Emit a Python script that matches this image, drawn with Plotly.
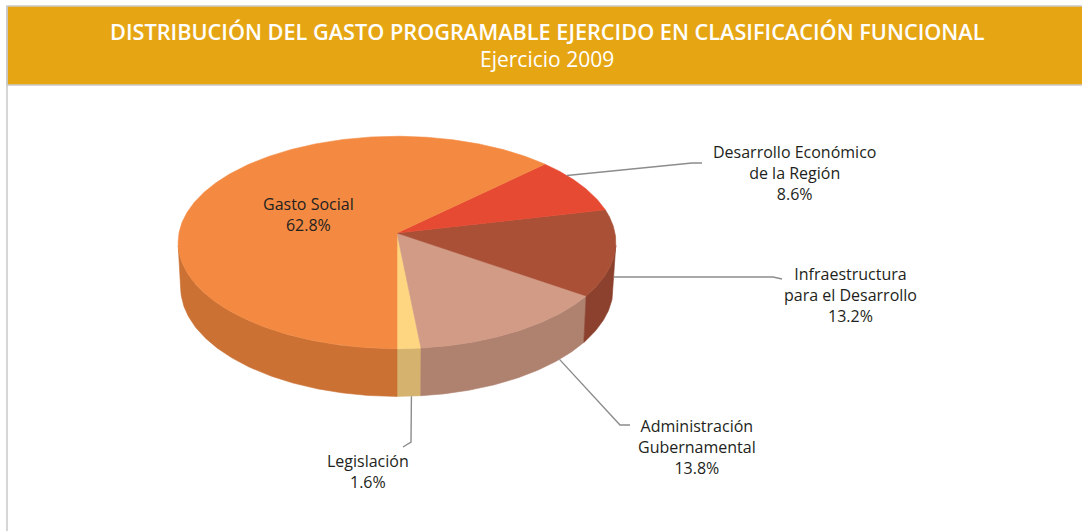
import math
import plotly.graph_objects as go

# ---- data ----
categories = [
    "Legislación",
    "Administración<br>Gubernamental",
    "Infraestructura<br>para el Desarrollo",
    "Desarrollo Económico<br>de la Región",
    "Gasto Social",
]
shares = [1.6, 13.8, 13.2, 8.6, 62.8]
top_colors = ["#FED681", "#D29B86", "#A95036", "#E64A33", "#F48A42"]
side_colors = ["#D5B36E", "#AF826F", "#8B412D", "#B83B29", "#CB7134"]

title_text = "DISTRIBUCIÓN DEL GASTO PROGRAMABLE EJERCIDO EN CLASIFICACIÓN FUNCIONAL"
subtitle_text = "Ejercicio 2009"

# ---- 3D pie projection (perspective view of a tilted disc) ----
W, H_PX = 1082, 531
ELEV = math.radians(28.9)
DIST = 9.81
FOC = 218 * DIST
CX, CY = 397, 233
THICK = 0.2378
START = -90.0  # first slice starts at the front of the disc


def proj(theta_deg, r=1.0, z=0.0):
    t = math.radians(theta_deg)
    X, Y = r * math.cos(t), r * math.sin(t)
    s, c = math.sin(ELEV), math.cos(ELEV)
    yp = Y * s + z * c
    zp = DIST + Y * c - z * s
    return CX + FOC * X / zp, CY - FOC * yp / zp


def arc(a0, a1, z=0.0, step=0.5):
    n = max(2, int(abs(a1 - a0) / step) + 1)
    pts = [proj(a0 + (a1 - a0) * i / (n - 1), 1.0, z) for i in range(n)]
    return [p[0] for p in pts], [p[1] for p in pts]


# visible part of the cylinder wall
lim = math.degrees(math.asin(1.0 / (DIST * math.cos(ELEV))))
visible = [(-180 + lim, -lim), (180 + lim, 360 - lim)]

bounds = []
acc = START
for v in shares:
    a0 = acc
    acc += v * 3.6
    bounds.append((a0, acc))

fig = go.Figure()

# side walls
for (a0, a1), col in zip(bounds, side_colors):
    for v0, v1 in visible:
        lo, hi = max(a0, v0), min(a1, v1)
        if hi <= lo:
            continue
        tx, ty = arc(lo, hi, 0.0)
        bx, by = arc(lo, hi, -THICK)
        fig.add_trace(go.Scatter(
            x=tx + bx[::-1] + [tx[0]], y=ty + by[::-1] + [ty[0]],
            mode="lines", fill="toself", fillcolor=col,
            line=dict(color=col, width=0.6), hoverinfo="skip", showlegend=False))

# top faces
for (a0, a1), col, name, v in zip(bounds, top_colors, categories, shares):
    ax, ay = arc(a0, a1, 0.0)
    fig.add_trace(go.Scatter(
        x=[CX] + ax + [CX], y=[CY] + ay + [CY],
        mode="lines", fill="toself", fillcolor=col,
        line=dict(color=col, width=0.6), name=name.replace("<br>", " "),
        text=f"{v}%", hoverinfo="name+text", showlegend=False))

# ---- leader lines and labels ----
text_color = "#231F20"
label_font = dict(family="Open Sans", size=16, color=text_color)
lead_color = "#8C8C8C"

# (anchor angle inside slice, depth fraction, path to label, label centre)
leaders = {
    3: (35.0, 0.0, [(692, 163), (702, 163)], (794, 173)),
    2: (-5.0, 0.77, [(773, 277), (782, 279)], (850, 295)),
    1: (-45.0, 1.0, [(620, 425), (630, 425)], (697, 447)),
    0: (-86.5, 1.0, [(411, 442), (403, 447)], (368, 471)),
}

for idx, (ang, frac, path, (lx, ly)) in leaders.items():
    sx, sy = proj(ang, 1.0, -THICK * frac)
    xs = [sx] + [p[0] for p in path]
    ys = [sy] + [p[1] for p in path]
    fig.add_trace(go.Scatter(x=xs, y=ys, mode="lines",
                             line=dict(color=lead_color, width=1.4),
                             hoverinfo="skip", showlegend=False))
    fig.add_annotation(x=lx, y=ly, xref="x", yref="y", showarrow=False,
                       text=f"{categories[idx]}<br>{shares[idx]}%",
                       font=label_font, align="center")

# label on the largest slice
fig.add_annotation(x=308, y=214, xref="x", yref="y", showarrow=False,
                   text=f"{categories[4]}<br>{shares[4]}%",
                   font=label_font, align="center")

# ---- header band and frame ----
fig.add_shape(type="rect", x0=7, x1=W + 5, y0=6, y1=85, xref="x", yref="y",
              fillcolor="#E6A614", line=dict(color="#C9C9C9", width=1.5), layer="below")
fig.add_shape(type="line", x0=7, x1=7, y0=6, y1=H_PX + 5, xref="x", yref="y",
              line=dict(color="#C9C9C9", width=1.5), layer="below")

fig.add_annotation(x=547, y=31, xref="x", yref="y", showarrow=False,
                   text=title_text,
                   font=dict(family="Open Sans", size=21.7, color="white", weight=600))
fig.add_annotation(x=547, y=59, xref="x", yref="y", showarrow=False,
                   text=subtitle_text,
                   font=dict(family="Open Sans", size=21, color="white"))

fig.update_layout(
    width=W, height=H_PX,
    margin=dict(l=0, r=0, t=0, b=0),
    paper_bgcolor="white", plot_bgcolor="white",
    xaxis=dict(range=[0, W], visible=False, fixedrange=True),
    yaxis=dict(range=[H_PX, 0], visible=False, fixedrange=True),
    showlegend=False,
)

fig.write_html("out.html", config={"displayModeBar": False})
